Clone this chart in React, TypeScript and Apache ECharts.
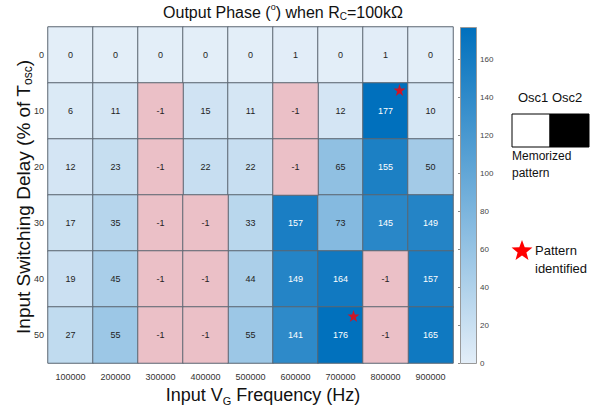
import React, { useEffect, useRef } from 'react';
import * as echarts from 'echarts';

const freqLabels = ['100000', '200000', '300000', '400000', '500000', '600000', '700000', '800000', '900000'];
const delayLabels = ['0', '10', '20', '30', '40', '50'];

const phaseDelay0 = [0, 0, 0, 0, 0, 1, 0, 1, 0];
const phaseDelay10 = [6, 11, -1, 15, 11, -1, 12, 177, 10];
const phaseDelay20 = [12, 23, -1, 22, 22, -1, 65, 155, 50];
const phaseDelay30 = [17, 35, -1, -1, 33, 157, 73, 145, 149];
const phaseDelay40 = [19, 45, -1, -1, 44, 149, 164, -1, 157];
const phaseDelay50 = [27, 55, -1, -1, 55, 141, 176, -1, 165];
const phaseRows = [phaseDelay0, phaseDelay10, phaseDelay20, phaseDelay30, phaseDelay40, phaseDelay50];

// [freq index, delay index]
const starCells = [[7, 1], [6, 5]];

const colorMin = 0;
const colorMax = 177;
const colorTickStep = 20;

const FONT = 'Liberation Sans, Arial, Helvetica, sans-serif';
const LIGHT = '#e3eef8';
const DARK = '#0070bd';
const PINK = '#ebc0c7';

function starPoints(cx: number, cy: number, R: number) {
  const pts: number[][] = [];
  const r = R * 0.42;
  for (let i = 0; i < 10; i++) {
    const a = -Math.PI / 2 + (i * Math.PI) / 5;
    const rr = i % 2 === 0 ? R : r;
    pts.push([cx + rr * Math.cos(a), cy + rr * Math.sin(a)]);
  }
  return pts;
}

const STAR_PATH = 'path://M50,0 L61.2,34.5 L97.6,34.5 L68.2,55.9 L79.4,90.5 L50,69.1 L20.6,90.5 L31.8,55.9 L2.4,34.5 L38.8,34.5 Z';

export default function App() {
  const ref = useRef<HTMLDivElement>(null);
  useEffect(() => {
    if (!ref.current) return;
    const chart = echarts.init(ref.current, undefined, { renderer: 'svg' });

    const heatData: any[] = [];
    const failData: any[] = [];
    phaseRows.forEach((row, r) => {
      row.forEach((v, c) => {
        if (v < 0) {
          failData.push({ value: [c, r, v] });
        } else {
          heatData.push({ value: [c, r, v], label: { color: v > 100 ? '#ffffff' : '#222222' } });
        }
      });
    });

    const starOffsets = [[14, -21], [13, -19]];
    const starData = starCells.map((s, i) => ({ value: s, symbolOffset: starOffsets[i] }));

    const cellBorder = { borderColor: '#5b6671', borderWidth: 1 };
    const cellLabel = { show: true, fontSize: 9, fontFamily: FONT };

    const option: any = {
      animation: false,
      textStyle: { fontFamily: FONT },
      grid: [
        { left: 48, top: 27, width: 405, height: 336 },
        { left: 460, top: 27, width: 16, height: 336, show: false },
      ],
      xAxis: [
        {
          type: 'category', gridIndex: 0, data: freqLabels,
          axisLine: { show: false }, axisTick: { show: false }, splitLine: { show: false },
          axisLabel: { fontSize: 9, color: '#333', margin: 9, fontFamily: FONT },
        },
        { type: 'value', gridIndex: 1, show: false, min: 0, max: 1 },
      ],
      yAxis: [
        {
          type: 'category', gridIndex: 0, data: delayLabels, inverse: true,
          axisLine: { show: false }, axisTick: { show: false }, splitLine: { show: false },
          axisLabel: { fontSize: 9, color: '#333', margin: 4, fontFamily: FONT },
        },
        {
          type: 'value', gridIndex: 1, position: 'right', min: colorMin, max: colorMax, interval: colorTickStep,
          axisLine: { show: false }, splitLine: { show: false },
          axisTick: { show: true, inside: true, length: 2, lineStyle: { color: '#888' } },
          axisLabel: { fontSize: 8, color: '#444', margin: 4, showMaxLabel: false, fontFamily: FONT },
        },
      ],
      visualMap: [
        {
          type: 'continuous', show: false, min: colorMin, max: colorMax, dimension: 2, seriesIndex: 0,
          inRange: { color: [LIGHT, DARK] },
        },
        {
          type: 'piecewise', show: false, dimension: 2, seriesIndex: 1,
          pieces: [{ min: -10, max: -0.5, color: PINK }],
          outOfRange: { color: PINK },
        },
      ],
      series: [
        {
          type: 'heatmap', xAxisIndex: 0, yAxisIndex: 0, data: heatData,
          itemStyle: cellBorder, label: cellLabel, emphasis: { disabled: true },
        },
        {
          type: 'heatmap', xAxisIndex: 0, yAxisIndex: 0, data: failData,
          itemStyle: cellBorder,
          label: { ...cellLabel, color: '#222222' }, emphasis: { disabled: true },
        },
        {
          type: 'scatter', xAxisIndex: 0, yAxisIndex: 0, data: starData,
          symbol: STAR_PATH, symbolSize: 12, itemStyle: { color: '#ff0000' }, z: 10,
        },
        { type: 'scatter', xAxisIndex: 1, yAxisIndex: 1, data: [] },
      ],
      graphic: [
        {
          type: 'rect', left: 460, top: 27, z: 5,
          shape: { width: 16, height: 336 },
          style: {
            fill: new echarts.graphic.LinearGradient(0, 0, 0, 1, [
              { offset: 0, color: DARK },
              { offset: 1, color: LIGHT },
            ]),
            stroke: '#999', lineWidth: 1,
          },
        },
        {
          type: 'text', x: 283, y: 12, z: 10,
          style: {
            text: '{a|Output Phase (}{sup|o}{a|) when R}{sub|C}{a|=100kΩ}',
            align: 'center', verticalAlign: 'middle',
            rich: {
              a: { fontSize: 16, fontFamily: FONT, fill: '#111', lineHeight: 19 },
              sup: { fontSize: 9, fontFamily: FONT, fill: '#111', verticalAlign: 'top', lineHeight: 10 },
              sub: { fontSize: 10, fontFamily: FONT, fill: '#111', verticalAlign: 'bottom', lineHeight: 10 },
            },
          },
        },
        {
          type: 'text', x: 263, y: 395, z: 10,
          style: {
            text: '{a|Input V}{sub|G}{a| Frequency (Hz)}',
            align: 'center', verticalAlign: 'middle',
            rich: {
              a: { fontSize: 18, fontFamily: FONT, fill: '#111', lineHeight: 22 },
              sub: { fontSize: 11, fontFamily: FONT, fill: '#111', verticalAlign: 'bottom', lineHeight: 11 },
            },
          },
        },
        {
          type: 'text', x: 23, y: 197, rotation: Math.PI / 2, z: 10,
          style: {
            text: '{a|Input Switching Delay (% of T}{sub|osc}{a|)}',
            align: 'center', verticalAlign: 'middle',
            rich: {
              a: { fontSize: 19, fontFamily: FONT, fill: '#111', lineHeight: 22 },
              sub: { fontSize: 12, fontFamily: FONT, fill: '#111', verticalAlign: 'bottom', lineHeight: 11 },
            },
          },
        },
        {
          type: 'text', x: 518, y: 97, z: 10,
          style: { text: 'Osc1 Osc2', fontSize: 13, fontFamily: FONT, fill: '#111', verticalAlign: 'middle' },
        },
        {
          type: 'rect', z: 10, shape: { x: 512, y: 114, width: 38, height: 33 },
          style: { fill: '#ffffff', stroke: '#000', lineWidth: 1 },
        },
        {
          type: 'rect', z: 10, shape: { x: 550, y: 114, width: 39, height: 33 },
          style: { fill: '#000000', stroke: '#000', lineWidth: 1 },
        },
        {
          type: 'text', x: 512, y: 156, z: 10,
          style: { text: 'Memorized', fontSize: 12, fontFamily: FONT, fill: '#111', verticalAlign: 'middle' },
        },
        {
          type: 'text', x: 512, y: 173, z: 10,
          style: { text: 'pattern', fontSize: 12, fontFamily: FONT, fill: '#111', verticalAlign: 'middle' },
        },
        {
          type: 'polygon', z: 10,
          shape: { points: starPoints(522, 251, 11) },
          style: { fill: '#ff0000' },
        },
        {
          type: 'text', x: 535, y: 250, z: 10,
          style: { text: 'Pattern', fontSize: 13, fontFamily: FONT, fill: '#111', verticalAlign: 'middle' },
        },
        {
          type: 'text', x: 535, y: 268, z: 10,
          style: { text: 'identified', fontSize: 13, fontFamily: FONT, fill: '#111', verticalAlign: 'middle' },
        },
      ],
    };

    chart.setOption(option);
    return () => chart.dispose();
  }, []);

  return (
    <div
      ref={ref}
      style={{ position: 'fixed', left: 0, top: 0, width: 611, height: 412, background: '#fff' }}
    />
  );
}
